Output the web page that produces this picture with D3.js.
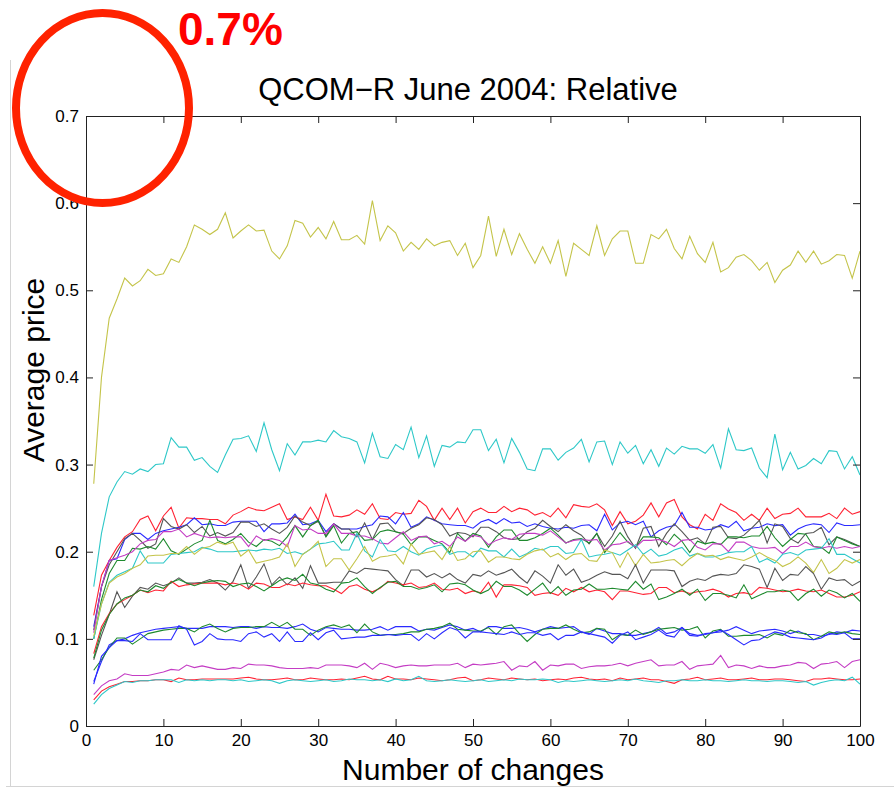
<!DOCTYPE html>
<html>
<head>
<meta charset="utf-8">
<script src="https://cdn.jsdelivr.net/npm/d3@7"></script>
<style>
  body { margin: 0; background: #fff; }
  svg { display: block; }
  text { font-family: "Liberation Sans", Arial, Helvetica, sans-serif; }
</style>
</head>
<body>
<svg id="chart" width="894" height="790"></svg>
<script>
// number of changes 1..100 (x of every point)
const changes = d3.range(1, 101);

const xTicks = [0, 10, 20, 30, 40, 50, 60, 70, 80, 90, 100];
const yTicks = [0, 0.1, 0.2, 0.3, 0.4, 0.5, 0.6, 0.7];
const yTickLabels = ["0", "0.1", "0.2", "0.3", "0.4", "0.5", "0.6", "0.7"];

// average price, one array per run
const yellowTop = [
  0.278, 0.400, 0.468, 0.490, 0.514, 0.505, 0.511, 0.524, 0.517, 0.519,
  0.536, 0.532, 0.550, 0.575, 0.570, 0.564, 0.570, 0.589, 0.560, 0.568,
  0.575, 0.568, 0.569, 0.545, 0.536, 0.551, 0.580, 0.577, 0.561, 0.572,
  0.559, 0.579, 0.558, 0.558, 0.563, 0.553, 0.603, 0.557, 0.574, 0.566,
  0.545, 0.555, 0.547, 0.559, 0.551, 0.555, 0.557, 0.540, 0.554, 0.526,
  0.540, 0.585, 0.539, 0.570, 0.541, 0.565, 0.547, 0.531, 0.550, 0.531,
  0.557, 0.516, 0.554, 0.547, 0.540, 0.574, 0.540, 0.559, 0.568, 0.568,
  0.531, 0.531, 0.564, 0.559, 0.570, 0.548, 0.536, 0.562, 0.542, 0.532,
  0.555, 0.521, 0.526, 0.538, 0.541, 0.534, 0.523, 0.532, 0.509, 0.523,
  0.529, 0.545, 0.532, 0.545, 0.530, 0.534, 0.541, 0.540, 0.514, 0.545];

const cyanTop = [
  0.160, 0.221, 0.263, 0.280, 0.292, 0.289, 0.295, 0.292, 0.300, 0.301,
  0.331, 0.320, 0.320, 0.305, 0.308, 0.298, 0.291, 0.311, 0.329, 0.330,
  0.333, 0.315, 0.348, 0.317, 0.293, 0.324, 0.311, 0.326, 0.326, 0.328,
  0.326, 0.339, 0.332, 0.330, 0.326, 0.302, 0.336, 0.309, 0.307, 0.323,
  0.317, 0.343, 0.308, 0.333, 0.298, 0.322, 0.320, 0.326, 0.325, 0.340,
  0.340, 0.316, 0.329, 0.302, 0.330, 0.314, 0.295, 0.293, 0.318, 0.318,
  0.305, 0.314, 0.319, 0.329, 0.303, 0.326, 0.327, 0.300, 0.326, 0.313,
  0.322, 0.301, 0.317, 0.298, 0.319, 0.312, 0.321, 0.318, 0.318, 0.313,
  0.323, 0.296, 0.341, 0.317, 0.316, 0.319, 0.296, 0.285, 0.335, 0.294,
  0.314, 0.295, 0.299, 0.307, 0.301, 0.316, 0.315, 0.295, 0.309, 0.288];

const redA = [
  0.127, 0.173, 0.190, 0.205, 0.217, 0.223, 0.237, 0.241, 0.224, 0.241,
  0.251, 0.227, 0.239, 0.238, 0.238, 0.237, 0.237, 0.232, 0.242, 0.246,
  0.251, 0.248, 0.247, 0.251, 0.255, 0.237, 0.240, 0.237, 0.251, 0.236,
  0.266, 0.241, 0.240, 0.242, 0.248, 0.243, 0.255, 0.238, 0.237, 0.245,
  0.243, 0.244, 0.259, 0.252, 0.236, 0.250, 0.237, 0.250, 0.233, 0.246,
  0.250, 0.245, 0.245, 0.252, 0.246, 0.250, 0.248, 0.242, 0.245, 0.240,
  0.250, 0.239, 0.254, 0.252, 0.251, 0.255, 0.248, 0.230, 0.246, 0.232,
  0.235, 0.242, 0.256, 0.240, 0.256, 0.260, 0.240, 0.231, 0.226, 0.243,
  0.236, 0.255, 0.249, 0.245, 0.236, 0.243, 0.236, 0.250, 0.238, 0.243,
  0.244, 0.250, 0.240, 0.240, 0.240, 0.244, 0.238, 0.250, 0.243, 0.246];

const blueA = [
  0.114, 0.160, 0.190, 0.192, 0.214, 0.221, 0.221, 0.214, 0.221, 0.224,
  0.226, 0.228, 0.231, 0.239, 0.231, 0.232, 0.230, 0.230, 0.234, 0.235,
  0.235, 0.235, 0.223, 0.232, 0.232, 0.233, 0.243, 0.231, 0.232, 0.236,
  0.223, 0.232, 0.226, 0.226, 0.226, 0.229, 0.231, 0.241, 0.240, 0.232,
  0.245, 0.228, 0.232, 0.240, 0.236, 0.232, 0.231, 0.230, 0.230, 0.227,
  0.234, 0.237, 0.232, 0.238, 0.233, 0.234, 0.229, 0.232, 0.229, 0.227,
  0.226, 0.228, 0.227, 0.230, 0.231, 0.224, 0.243, 0.225, 0.233, 0.235,
  0.231, 0.235, 0.217, 0.224, 0.228, 0.230, 0.245, 0.228, 0.228, 0.225,
  0.226, 0.231, 0.228, 0.235, 0.224, 0.227, 0.228, 0.232, 0.230, 0.231,
  0.219, 0.226, 0.230, 0.232, 0.231, 0.222, 0.233, 0.230, 0.230, 0.231];

const blackA = [
  0.110, 0.160, 0.185, 0.200, 0.215, 0.221, 0.213, 0.204, 0.209, 0.238,
  0.229, 0.226, 0.231, 0.222, 0.229, 0.218, 0.222, 0.218, 0.222, 0.234,
  0.234, 0.229, 0.232, 0.226, 0.221, 0.228, 0.241, 0.234, 0.230, 0.235,
  0.218, 0.232, 0.226, 0.226, 0.217, 0.233, 0.214, 0.232, 0.233, 0.223,
  0.221, 0.227, 0.231, 0.239, 0.237, 0.231, 0.218, 0.222, 0.221, 0.217,
  0.228, 0.228, 0.223, 0.216, 0.214, 0.215, 0.223, 0.227, 0.236, 0.229,
  0.223, 0.231, 0.224, 0.219, 0.209, 0.221, 0.206, 0.218, 0.235, 0.217,
  0.204, 0.227, 0.229, 0.206, 0.221, 0.232, 0.223, 0.213, 0.216, 0.209,
  0.228, 0.229, 0.216, 0.215, 0.219, 0.227, 0.236, 0.210, 0.232, 0.229,
  0.215, 0.210, 0.221, 0.222, 0.228, 0.208, 0.217, 0.214, 0.210, 0.206];

const greenA = [
  0.100, 0.145, 0.175, 0.190, 0.190, 0.204, 0.203, 0.206, 0.203, 0.215,
  0.201, 0.197, 0.203, 0.209, 0.213, 0.236, 0.213, 0.209, 0.214, 0.221,
  0.211, 0.206, 0.214, 0.212, 0.207, 0.217, 0.230, 0.217, 0.230, 0.236,
  0.217, 0.230, 0.210, 0.221, 0.223, 0.213, 0.214, 0.223, 0.225, 0.223,
  0.220, 0.208, 0.217, 0.217, 0.213, 0.209, 0.199, 0.221, 0.212, 0.221,
  0.218, 0.205, 0.217, 0.225, 0.225, 0.213, 0.213, 0.216, 0.221, 0.227,
  0.219, 0.210, 0.214, 0.215, 0.210, 0.221, 0.199, 0.210, 0.222, 0.211,
  0.205, 0.217, 0.217, 0.216, 0.208, 0.220, 0.212, 0.199, 0.212, 0.209,
  0.211, 0.208, 0.217, 0.217, 0.216, 0.218, 0.218, 0.229, 0.216, 0.206,
  0.214, 0.221, 0.220, 0.206, 0.205, 0.198, 0.217, 0.213, 0.209, 0.206];

const magentaA = [
  0.107, 0.160, 0.190, 0.193, 0.196, 0.200, 0.209, 0.213, 0.214, 0.223,
  0.223, 0.226, 0.217, 0.221, 0.218, 0.216, 0.217, 0.216, 0.217, 0.217,
  0.206, 0.218, 0.213, 0.215, 0.213, 0.206, 0.230, 0.225, 0.226, 0.221,
  0.221, 0.232, 0.221, 0.221, 0.218, 0.218, 0.215, 0.210, 0.209, 0.216,
  0.223, 0.213, 0.217, 0.218, 0.209, 0.212, 0.206, 0.217, 0.212, 0.219,
  0.217, 0.208, 0.213, 0.216, 0.214, 0.220, 0.221, 0.221, 0.219, 0.224,
  0.217, 0.210, 0.213, 0.214, 0.213, 0.214, 0.202, 0.208, 0.209, 0.212,
  0.205, 0.213, 0.213, 0.214, 0.211, 0.206, 0.213, 0.214, 0.205, 0.202,
  0.209, 0.209, 0.200, 0.211, 0.211, 0.206, 0.204, 0.204, 0.205, 0.198,
  0.206, 0.206, 0.211, 0.206, 0.204, 0.206, 0.204, 0.206, 0.204, 0.206];

const cyanB = [
  0.100, 0.140, 0.165, 0.173, 0.177, 0.181, 0.201, 0.187, 0.187, 0.187,
  0.197, 0.198, 0.199, 0.200, 0.205, 0.203, 0.200, 0.200, 0.200, 0.201,
  0.202, 0.201, 0.203, 0.202, 0.204, 0.198, 0.200, 0.197, 0.203, 0.209,
  0.210, 0.212, 0.202, 0.202, 0.221, 0.201, 0.194, 0.214, 0.201, 0.200,
  0.206, 0.200, 0.196, 0.203, 0.206, 0.208, 0.197, 0.200, 0.200, 0.194,
  0.204, 0.201, 0.201, 0.194, 0.203, 0.194, 0.198, 0.204, 0.202, 0.206,
  0.206, 0.198, 0.199, 0.214, 0.194, 0.196, 0.197, 0.199, 0.196, 0.202,
  0.208, 0.197, 0.203, 0.195, 0.197, 0.202, 0.205, 0.195, 0.198, 0.194,
  0.194, 0.196, 0.199, 0.200, 0.200, 0.206, 0.188, 0.192, 0.187, 0.197,
  0.199, 0.196, 0.202, 0.203, 0.204, 0.215, 0.197, 0.197, 0.192, 0.187];

const yellowB = [
  0.103, 0.140, 0.164, 0.171, 0.175, 0.181, 0.185, 0.195, 0.196, 0.196,
  0.198, 0.198, 0.206, 0.197, 0.204, 0.206, 0.211, 0.208, 0.211, 0.195,
  0.202, 0.187, 0.189, 0.191, 0.194, 0.209, 0.183, 0.197, 0.203, 0.212,
  0.183, 0.192, 0.192, 0.179, 0.192, 0.206, 0.189, 0.194, 0.195, 0.197,
  0.186, 0.209, 0.197, 0.199, 0.201, 0.191, 0.206, 0.190, 0.192, 0.200,
  0.201, 0.188, 0.194, 0.194, 0.192, 0.191, 0.197, 0.201, 0.203, 0.194,
  0.198, 0.191, 0.197, 0.198, 0.190, 0.189, 0.202, 0.199, 0.182, 0.199,
  0.184, 0.197, 0.187, 0.188, 0.190, 0.191, 0.184, 0.192, 0.198, 0.195,
  0.196, 0.191, 0.194, 0.192, 0.190, 0.194, 0.199, 0.194, 0.190, 0.183,
  0.187, 0.194, 0.187, 0.176, 0.191, 0.175, 0.181, 0.191, 0.187, 0.191];

const blackB = [
  0.076, 0.104, 0.128, 0.154, 0.136, 0.149, 0.159, 0.157, 0.164, 0.161,
  0.164, 0.170, 0.164, 0.164, 0.165, 0.168, 0.164, 0.156, 0.166, 0.185,
  0.158, 0.171, 0.186, 0.162, 0.171, 0.162, 0.170, 0.158, 0.184, 0.164,
  0.164, 0.165, 0.165, 0.178, 0.175, 0.181, 0.180, 0.179, 0.178, 0.168,
  0.161, 0.179, 0.179, 0.171, 0.175, 0.170, 0.175, 0.168, 0.164, 0.174,
  0.172, 0.178, 0.173, 0.176, 0.180, 0.171, 0.164, 0.178, 0.172, 0.164,
  0.185, 0.173, 0.180, 0.165, 0.168, 0.173, 0.177, 0.174, 0.174, 0.169,
  0.185, 0.164, 0.179, 0.179, 0.179, 0.178, 0.160, 0.166, 0.169, 0.167,
  0.172, 0.174, 0.173, 0.175, 0.185, 0.183, 0.180, 0.159, 0.181, 0.167,
  0.174, 0.173, 0.183, 0.175, 0.157, 0.170, 0.167, 0.168, 0.161, 0.166];

const redB = [
  0.083, 0.114, 0.129, 0.140, 0.145, 0.150, 0.156, 0.153, 0.156, 0.155,
  0.166, 0.160, 0.162, 0.163, 0.164, 0.164, 0.164, 0.162, 0.164, 0.162,
  0.157, 0.164, 0.163, 0.159, 0.159, 0.163, 0.161, 0.164, 0.162, 0.161,
  0.161, 0.157, 0.152, 0.160, 0.162, 0.157, 0.154, 0.158, 0.166, 0.164,
  0.162, 0.164, 0.159, 0.160, 0.164, 0.157, 0.156, 0.158, 0.152, 0.155,
  0.153, 0.165, 0.148, 0.162, 0.162, 0.161, 0.159, 0.150, 0.152, 0.153,
  0.150, 0.158, 0.154, 0.159, 0.154, 0.156, 0.154, 0.145, 0.155, 0.155,
  0.153, 0.151, 0.152, 0.159, 0.159, 0.153, 0.155, 0.152, 0.154, 0.155,
  0.157, 0.154, 0.148, 0.152, 0.153, 0.151, 0.159, 0.158, 0.156, 0.154,
  0.155, 0.157, 0.155, 0.154, 0.156, 0.152, 0.148, 0.148, 0.150, 0.154];

const greenB = [
  0.078, 0.110, 0.128, 0.140, 0.147, 0.150, 0.156, 0.154, 0.161, 0.158,
  0.165, 0.168, 0.164, 0.161, 0.164, 0.166, 0.167, 0.166, 0.160, 0.163,
  0.164, 0.160, 0.155, 0.161, 0.167, 0.170, 0.167, 0.174, 0.164, 0.162,
  0.157, 0.154, 0.164, 0.165, 0.170, 0.160, 0.152, 0.159, 0.165, 0.166,
  0.160, 0.160, 0.157, 0.159, 0.162, 0.154, 0.163, 0.164, 0.162, 0.156,
  0.152, 0.156, 0.166, 0.160, 0.160, 0.156, 0.150, 0.157, 0.164, 0.152,
  0.160, 0.150, 0.156, 0.157, 0.163, 0.157, 0.157, 0.158, 0.157, 0.156,
  0.166, 0.157, 0.163, 0.145, 0.148, 0.152, 0.157, 0.150, 0.157, 0.144,
  0.152, 0.152, 0.150, 0.147, 0.162, 0.146, 0.150, 0.154, 0.154, 0.156,
  0.154, 0.144, 0.152, 0.157, 0.149, 0.156, 0.153, 0.147, 0.152, 0.143];

const blueC = [
  0.051, 0.074, 0.093, 0.098, 0.100, 0.104, 0.107, 0.109, 0.111, 0.112,
  0.113, 0.114, 0.112, 0.112, 0.112, 0.114, 0.114, 0.114, 0.113, 0.114,
  0.114, 0.112, 0.114, 0.113, 0.113, 0.112, 0.114, 0.117, 0.111, 0.108,
  0.113, 0.112, 0.111, 0.111, 0.110, 0.110, 0.111, 0.114, 0.110, 0.114,
  0.114, 0.114, 0.109, 0.111, 0.110, 0.113, 0.116, 0.114, 0.110, 0.112,
  0.108, 0.114, 0.114, 0.112, 0.112, 0.113, 0.111, 0.108, 0.111, 0.114,
  0.112, 0.113, 0.114, 0.108, 0.105, 0.112, 0.109, 0.106, 0.106, 0.104,
  0.104, 0.106, 0.108, 0.113, 0.106, 0.108, 0.113, 0.106, 0.104, 0.105,
  0.107, 0.108, 0.110, 0.114, 0.110, 0.106, 0.109, 0.110, 0.111, 0.109,
  0.106, 0.109, 0.105, 0.105, 0.103, 0.105, 0.108, 0.107, 0.110, 0.109];

const greenC = [
  0.064, 0.076, 0.090, 0.101, 0.101, 0.094, 0.100, 0.106, 0.108, 0.110,
  0.111, 0.112, 0.112, 0.108, 0.114, 0.117, 0.112, 0.108, 0.112, 0.113,
  0.113, 0.114, 0.114, 0.119, 0.114, 0.119, 0.111, 0.111, 0.104, 0.110,
  0.114, 0.116, 0.113, 0.116, 0.107, 0.117, 0.108, 0.104, 0.105, 0.105,
  0.106, 0.108, 0.108, 0.111, 0.112, 0.114, 0.118, 0.111, 0.110, 0.109,
  0.109, 0.113, 0.105, 0.114, 0.116, 0.106, 0.097, 0.105, 0.111, 0.112,
  0.112, 0.116, 0.111, 0.107, 0.108, 0.112, 0.111, 0.099, 0.105, 0.104,
  0.110, 0.105, 0.108, 0.111, 0.112, 0.113, 0.110, 0.111, 0.114, 0.101,
  0.109, 0.111, 0.103, 0.103, 0.104, 0.104, 0.105, 0.101, 0.106, 0.104,
  0.110, 0.107, 0.106, 0.099, 0.103, 0.108, 0.106, 0.108, 0.106, 0.105];

const blueD = [
  0.048, 0.080, 0.090, 0.098, 0.098, 0.097, 0.106, 0.099, 0.099, 0.099,
  0.099, 0.115, 0.111, 0.093, 0.097, 0.106, 0.100, 0.099, 0.099, 0.097,
  0.106, 0.108, 0.102, 0.106, 0.097, 0.108, 0.097, 0.097, 0.107, 0.099,
  0.107, 0.110, 0.100, 0.101, 0.102, 0.102, 0.104, 0.104, 0.105, 0.104,
  0.105, 0.105, 0.098, 0.106, 0.100, 0.107, 0.113, 0.110, 0.101, 0.108,
  0.108, 0.107, 0.106, 0.105, 0.108, 0.105, 0.107, 0.107, 0.104, 0.106,
  0.099, 0.104, 0.104, 0.108, 0.106, 0.104, 0.102, 0.095, 0.104, 0.108,
  0.099, 0.102, 0.105, 0.110, 0.104, 0.102, 0.113, 0.104, 0.103, 0.106,
  0.107, 0.110, 0.105, 0.099, 0.093, 0.098, 0.099, 0.104, 0.108, 0.106,
  0.102, 0.101, 0.100, 0.099, 0.101, 0.106, 0.105, 0.107, 0.100, 0.100];

const magentaB = [
  0.036, 0.046, 0.052, 0.054, 0.060, 0.058, 0.058, 0.058, 0.060, 0.062,
  0.065, 0.064, 0.070, 0.067, 0.069, 0.067, 0.065, 0.065, 0.067, 0.066,
  0.071, 0.070, 0.070, 0.069, 0.067, 0.066, 0.066, 0.066, 0.067, 0.066,
  0.070, 0.070, 0.070, 0.069, 0.067, 0.072, 0.065, 0.072, 0.070, 0.067,
  0.069, 0.070, 0.069, 0.069, 0.070, 0.070, 0.070, 0.072, 0.067, 0.071,
  0.070, 0.071, 0.072, 0.074, 0.064, 0.069, 0.068, 0.074, 0.064, 0.070,
  0.069, 0.071, 0.071, 0.066, 0.068, 0.069, 0.069, 0.070, 0.072, 0.069,
  0.072, 0.074, 0.076, 0.069, 0.070, 0.070, 0.074, 0.065, 0.069, 0.070,
  0.071, 0.081, 0.067, 0.070, 0.069, 0.066, 0.069, 0.067, 0.067, 0.069,
  0.070, 0.073, 0.072, 0.066, 0.071, 0.072, 0.074, 0.067, 0.074, 0.076];

const redC = [
  0.030, 0.040, 0.045, 0.048, 0.051, 0.051, 0.052, 0.052, 0.053, 0.053,
  0.051, 0.055, 0.053, 0.053, 0.054, 0.054, 0.054, 0.054, 0.054, 0.055,
  0.056, 0.054, 0.053, 0.053, 0.054, 0.055, 0.053, 0.053, 0.055, 0.054,
  0.053, 0.053, 0.054, 0.053, 0.055, 0.057, 0.054, 0.053, 0.057, 0.054,
  0.054, 0.053, 0.055, 0.054, 0.053, 0.052, 0.053, 0.055, 0.056, 0.052,
  0.053, 0.055, 0.054, 0.053, 0.055, 0.054, 0.053, 0.054, 0.052, 0.053,
  0.054, 0.053, 0.055, 0.056, 0.054, 0.053, 0.054, 0.052, 0.055, 0.053,
  0.054, 0.055, 0.053, 0.053, 0.051, 0.049, 0.053, 0.054, 0.056, 0.053,
  0.054, 0.055, 0.053, 0.053, 0.054, 0.055, 0.053, 0.053, 0.054, 0.054,
  0.053, 0.052, 0.051, 0.054, 0.054, 0.055, 0.054, 0.053, 0.053, 0.054];

const cyanC = [
  0.025, 0.036, 0.043, 0.047, 0.051, 0.050, 0.052, 0.052, 0.053, 0.053,
  0.053, 0.050, 0.053, 0.052, 0.053, 0.052, 0.053, 0.053, 0.052, 0.053,
  0.051, 0.052, 0.053, 0.052, 0.049, 0.052, 0.053, 0.052, 0.051, 0.052,
  0.053, 0.051, 0.052, 0.054, 0.053, 0.053, 0.052, 0.053, 0.051, 0.054,
  0.052, 0.053, 0.057, 0.052, 0.051, 0.052, 0.053, 0.052, 0.051, 0.052,
  0.053, 0.051, 0.052, 0.053, 0.052, 0.054, 0.053, 0.053, 0.054, 0.053,
  0.050, 0.052, 0.051, 0.052, 0.053, 0.052, 0.051, 0.052, 0.053, 0.052,
  0.054, 0.052, 0.051, 0.050, 0.052, 0.052, 0.053, 0.052, 0.052, 0.053,
  0.052, 0.052, 0.051, 0.052, 0.053, 0.052, 0.052, 0.051, 0.052, 0.052,
  0.051, 0.050, 0.051, 0.047, 0.050, 0.052, 0.053, 0.052, 0.056, 0.048];

const series = [yellowTop, cyanTop, redA, blueA, blackA, greenA, magentaA, cyanB, yellowB,
  blackB, redB, greenB, blueC, greenC, blueD, magentaB, redC, cyanC];
const seriesColors = ["#c4c44a", "#2ec8c8", "#ff2233", "#2a2aff", "#555555", "#1e8a2e", "#c43cc4", "#2ec8c8", "#c4c44a",
  "#555555", "#ff2233", "#1e8a2e", "#2a2aff", "#1e8a2e", "#2a2aff", "#c43cc4", "#ff2233", "#2ec8c8"];

const width = 894;
const height = 790;
const margin = ({top: 116, right: 34, bottom: 64, left: 86});

const svg = d3.select("#chart");

// faint figure frame
svg.append("line").attr("x1", 10.5).attr("x2", 10.5).attr("y1", 60).attr("y2", 787)
  .attr("stroke", "#d4d4d4").attr("stroke-width", 1);
svg.append("line").attr("x1", 6).attr("x2", width).attr("y1", 786.5).attr("y2", 786.5)
  .attr("stroke", "#d4d4d4").attr("stroke-width", 1);

var x = d3.scaleLinear().domain([0, 100]).range([margin.left, width - margin.right]);
var y = d3.scaleLinear().domain([0, 0.7]).range([height - margin.bottom, margin.top]);

var line = d3.line()
  .x((d, i) => x(changes[i]))
  .y(d => y(d));

svg.append("g")
  .selectAll("path")
  .data(series)
  .join("path")
  .attr("fill", "none")
  .attr("stroke", (d, i) => seriesColors[i])
  .attr("stroke-width", 1.1)
  .attr("stroke-linejoin", "miter")
  .attr("d", line);

// MATLAB-like box with inward ticks
let xAxis = d3.axisBottom(x).tickValues(xTicks).tickSizeInner(-7).tickSizeOuter(0).tickPadding(8);
let yAxis = d3.axisLeft(y).tickValues(yTicks).tickSizeInner(-7).tickSizeOuter(0).tickPadding(7)
  .tickFormat((d, i) => yTickLabels[i]);

let gx = svg.append("g").attr("transform", `translate(0, ${height - margin.bottom})`).call(xAxis);
let gy = svg.append("g").attr("transform", `translate(${margin.left}, 0)`).call(yAxis);
let gt = svg.append("g").attr("transform", `translate(0, ${margin.top})`)
  .call(d3.axisTop(x).tickValues(xTicks).tickSizeInner(-7).tickSizeOuter(0).tickFormat(""));
let gr = svg.append("g").attr("transform", `translate(${width - margin.right}, 0)`)
  .call(d3.axisRight(y).tickValues(yTicks).tickSizeInner(-7).tickSizeOuter(0).tickFormat(""));

[gx, gy, gt, gr].forEach(g => {
  g.select(".domain").attr("stroke", "#222");
  g.selectAll(".tick line").attr("stroke", "#222");
  g.selectAll(".tick text").attr("fill", "#000").style("font-size", "17px")
    .style("font-family", "'Liberation Sans', Arial, sans-serif");
});

// title and axis labels
svg.append("text")
  .attr("x", 468).attr("y", 100)
  .attr("text-anchor", "middle")
  .style("font-size", "31px")
  .text("QCOM\u2212R June 2004: Relative");

svg.append("text")
  .attr("x", 473).attr("y", 780)
  .attr("text-anchor", "middle")
  .style("font-size", "30px")
  .text("Number of changes");

svg.append("text")
  .attr("transform", "rotate(-90)")
  .attr("x", -370).attr("y", 44)
  .attr("text-anchor", "middle")
  .style("font-size", "30px")
  .text("Average price");

// red annotation
svg.append("ellipse")
  .attr("cx", 102.5).attr("cy", 108)
  .attr("rx", 86.5).attr("ry", 95)
  .attr("fill", "none")
  .attr("stroke", "#ff2200")
  .attr("stroke-width", 8);

svg.append("text")
  .attr("x", 178).attr("y", 45)
  .attr("fill", "#ff0000")
  .style("font-size", "46px")
  .style("font-weight", "bold")
  .text("0.7%");
</script>
</body>
</html>
